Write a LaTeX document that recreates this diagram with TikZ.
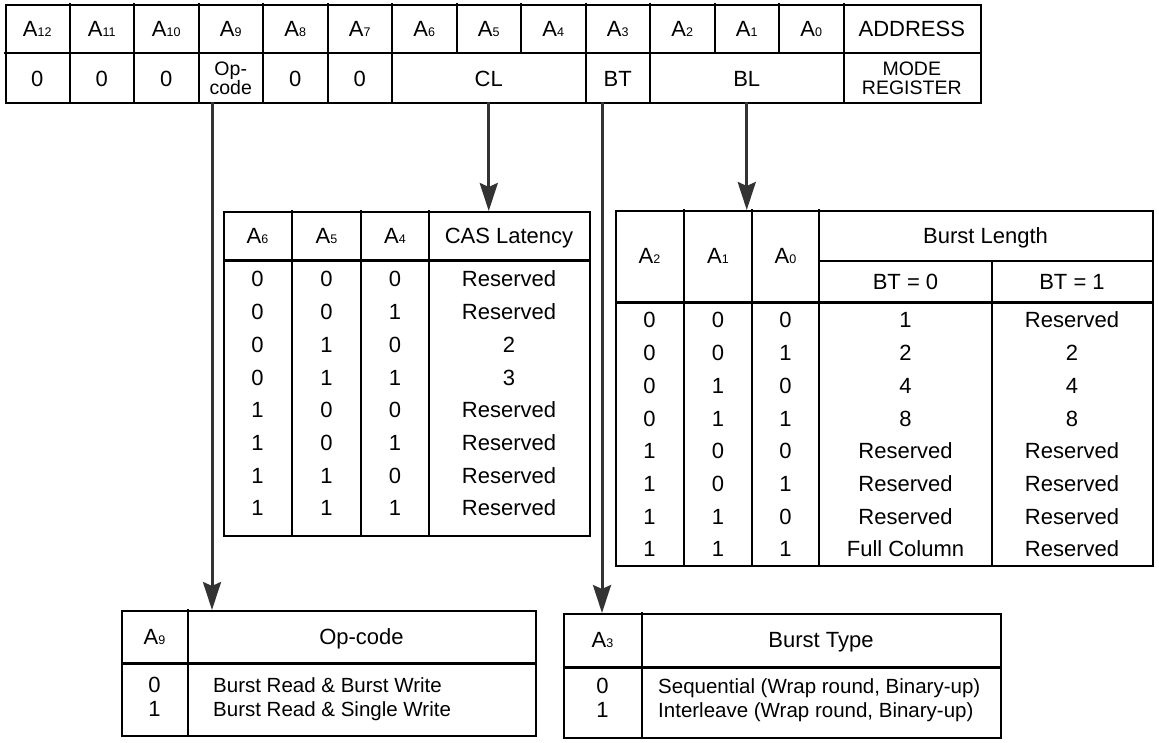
\documentclass[tikz,border=0pt]{standalone}
\usepackage{fontspec}
\setmainfont{Liberation Sans}
\usetikzlibrary{arrows.meta}
\newcommand{\Asub}[1]{A{\fontsize{12.5}{12.5}\selectfont #1}}
\begin{document}
\begin{tikzpicture}[x=1pt,y=-1pt,
  font=\fontsize{22}{26}\selectfont,
  txt/.style={inner sep=0pt, text height=15.8pt, text depth=0pt},
  ltxt/.style={txt, anchor=west},
  rtxt/.style={ltxt, font=\fontsize{20.5}{24}\selectfont, text height=14.7pt},
  small/.style={inner sep=0pt, align=center, font=\fontsize{19.5}{19}\selectfont},
  grid/.style={line width=2pt, line cap=rect},
  frame/.style={draw, line width=2.4pt, inner sep=0pt, anchor=north west},
  hsep/.style={line width=3pt},
  arr/.style={line width=3pt, draw=black!80,
    -{Stealth[length=28pt,width=18pt,inset=4pt,fill=black!80]}}]
\useasboundingbox[fill=white] (0,0) rectangle (1159,742);

% ---------------- register ----------------
\node[frame, minimum width=975pt, minimum height=98pt] (reg) at (5,4) {};
\draw[grid] (5,53) -- (980,53);
\foreach \i in {1,...,13} \draw[grid] ({5+\i*64.5},4) -- ({5+\i*64.5},53);
\foreach \x in {69.5,134,198.5,263,327.5,392,585.5,650,843.5} \draw[grid] (\x,53) -- (\x,102);
\foreach \l [count=\i from 0] in {12,11,10,9,8,7,6,5,4,3,2,1,0}
  \node[txt] (a\l) at ({5+(\i+0.5)*64.5},29) {\Asub{\l}};
\node[txt] (addr) at (911.75,29) {ADDRESS};
\node[txt] (v12) at (37.25,79) {0};
\node[txt] (v11) at (101.75,79) {0};
\node[txt] (v10) at (166.25,79) {0};
\node[small] (v9) at (230.75,78) {Op-\\code};
\node[txt] (v8) at (295.25,79) {0};
\node[txt] (v7) at (359.75,79) {0};
\node[txt] (cl) at (488.75,79) {CL};
\node[txt] (bt) at (617.75,79) {BT};
\node[txt] (bl) at (746.75,79) {BL};
\node[small] (mode) at (911.75,78) {MODE\\REGISTER};

% ---------------- CAS latency table ----------------
\node[frame, minimum width=366pt, minimum height=324pt] (cas) at (223,211) {};
\draw[hsep] (223,260) -- (589,260);
\foreach \x in {292,361,429} \draw[grid] (\x,211) -- (\x,535);
\node[txt] (cas-h1) at (257.5,236) {\Asub{6}};
\node[txt] (cas-h2) at (326.5,236) {\Asub{5}};
\node[txt] (cas-h3) at (395,236) {\Asub{4}};
\node[txt] (cas-h4) at (509,236) {CAS Latency};
\foreach \p/\q/\r/\s [count=\i from 0] in {0/0/0/Reserved,0/0/1/Reserved,0/1/0/2,0/1/1/3,1/0/0/Reserved,1/0/1/Reserved,1/1/0/Reserved,1/1/1/Reserved}{
  \node[txt] (cas-\i-a) at (257.5,{279+32.7*\i}) {\p};
  \node[txt] (cas-\i-b) at (326.5,{279+32.7*\i}) {\q};
  \node[txt] (cas-\i-c) at (395,{279+32.7*\i}) {\r};
  \node[txt] (cas-\i-d) at (509,{279+32.7*\i}) {\s};
}

% ---------------- burst length table ----------------
\node[frame, minimum width=537pt, minimum height=355pt] (blt) at (615,210) {};
\draw[grid] (819,261) -- (1152,261);
\draw[hsep] (615,302) -- (1152,302);
\foreach \x in {684,752,819} \draw[grid] (\x,210) -- (\x,565);
\draw[grid] (992,261) -- (992,565);
\node[txt] (blt-h1) at (649.5,256) {\Asub{2}};
\node[txt] (blt-h2) at (718,256) {\Asub{1}};
\node[txt] (blt-h3) at (785.5,256) {\Asub{0}};
\node[txt] (blt-h4) at (985.5,236) {Burst Length};
\node[txt] (blt-h5) at (905.5,282) {BT = 0};
\node[txt] (blt-h6) at (1072,282) {BT = 1};
\foreach \p/\q/\r/\s/\t [count=\i from 0] in {0/0/0/1/Reserved,0/0/1/2/2,0/1/0/4/4,0/1/1/8/8,1/0/0/Reserved/Reserved,1/0/1/Reserved/Reserved,1/1/0/Reserved/Reserved,1/1/1/Full Column/Reserved}{
  \node[txt] (blt-\i-a) at (649.5,{320+32.7*\i}) {\p};
  \node[txt] (blt-\i-b) at (718,{320+32.7*\i}) {\q};
  \node[txt] (blt-\i-c) at (785.5,{320+32.7*\i}) {\r};
  \node[txt] (blt-\i-d) at (905.5,{320+32.7*\i}) {\s};
  \node[txt] (blt-\i-e) at (1072,{320+32.7*\i}) {\t};
}

% ---------------- op-code table ----------------
\node[frame, minimum width=414pt, minimum height=125pt] (opt) at (121,610) {};
\draw[hsep] (121,663) -- (535,663);
\draw[grid] (188,610) -- (188,735);
\node[txt] (opt-h1) at (154.5,637) {\Asub{9}};
\node[txt] (opt-h2) at (361.5,637) {Op-code};
\node[txt] (opt-0a) at (154.5,685) {0};
\node[rtxt] (opt-0b) at (213,685) {Burst Read \& Burst Write};
\node[txt] (opt-1a) at (154.5,709) {1};
\node[rtxt] (opt-1b) at (213,709) {Burst Read \& Single Write};

% ---------------- burst type table ----------------
\node[frame, minimum width=437pt, minimum height=124pt] (btt) at (563,613) {};
\draw[hsep] (563,667) -- (1000,667);
\draw[grid] (642,613) -- (642,737);
\node[txt] (btt-h1) at (602.5,640) {\Asub{3}};
\node[txt] (btt-h2) at (821,640) {Burst Type};
\node[txt] (btt-0a) at (602.5,686) {0};
\node[rtxt] (btt-0b) at (658,686) {Sequential (Wrap round, Binary-up)};
\node[txt] (btt-1a) at (602.5,710) {1};
\node[rtxt] (btt-1b) at (658,710) {Interleave (Wrap round, Binary-up)};

% ---------------- arrows ----------------
\coordinate (s-op) at (212,102);
\coordinate (s-cl) at (488.75,102);
\coordinate (s-bt) at (602,102);
\coordinate (s-bl) at (746.75,102);
\draw[arr] (s-op) -- (s-op |- opt.north);
\draw[arr] (s-cl) -- (s-cl |- cas.north);
\draw[arr] (s-bt) -- (s-bt |- btt.north);
\draw[arr] (s-bl) -- (s-bl |- blt.north);
\end{tikzpicture}
\end{document}
